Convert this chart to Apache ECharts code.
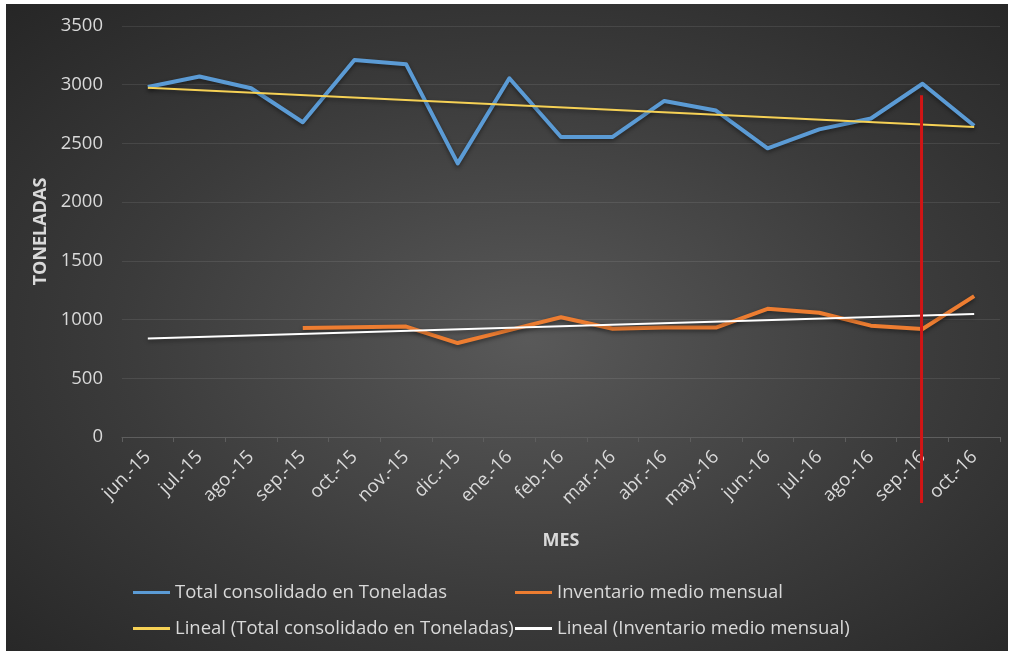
<!DOCTYPE html>
<html>
<head>
<meta charset="utf-8">
<script src="https://cdn.jsdelivr.net/npm/echarts@6/dist/echarts.min.js"></script>
<style>
  html, body { margin: 0; padding: 0; background: #ffffff; }
  #panel {
    position: absolute; left: 6px; top: 4px; width: 1002px; height: 647px;
    background: radial-gradient(ellipse farthest-corner at 52% 52%, #595959 0%, #3b3b3b 55%, #262626 100%);
  }
  #chart { position: absolute; left: 0; top: 0; width: 1009px; height: 652px; }
</style>
</head>
<body>
<div id="panel"></div>
<div id="chart"></div>
<script>
// Months on the category axis
const meses = ['jun.-15', 'jul.-15', 'ago.-15', 'sep.-15', 'oct.-15', 'nov.-15', 'dic.-15',
  'ene.-16', 'feb.-16', 'mar.-16', 'abr.-16', 'may.-16', 'jun.-16', 'jul.-16', 'ago.-16',
  'sep.-16', 'oct.-16'];

// Total consolidated tonnage per month
const totalToneladas = [2980, 3070, 2970, 2680, 3210, 3175, 2330, 3055, 2555, 2555, 2862,
  2780, 2458, 2620, 2712, 3008, 2650];

// Monthly average inventory (no data before sep.-15)
const inventarioMedio = [null, null, null, 928, 935, 940, 800, 910, 1020, 922, 932, 932,
  1092, 1058, 948, 920, 1200];

// Linear trend lines: value at the first and last month
const tendenciaTotal = [2975, 2640];
const tendenciaInventario = [838, 1048];

// Y axis ticks
const yTicks = [0, 500, 1000, 1500, 2000, 2500, 3000, 3500];

// Month marked with the red vertical line and the value where it starts
const mesMarcado = 'sep.-16';
const valorMarcado = 2910;

function trendSeries(ends) {
  const arr = meses.map(() => null);
  arr[0] = ends[0];
  arr[arr.length - 1] = ends[1];
  return arr;
}

const FONT = 'Open Sans';
const LABEL = '#d9d9d9';

const chart = echarts.init(document.getElementById('chart'), null, { renderer: 'canvas' });

const legendText = { color: LABEL, fontFamily: FONT, fontSize: 18.5 };
function legendAt(name, left, topPos) {
  return {
    data: [name], left: left, top: topPos, itemWidth: 37, itemHeight: 3, icon: 'rect',
    itemGap: 0, padding: 0, selectedMode: false, textStyle: legendText
  };
}

const shadow = { shadowColor: 'rgba(0,0,0,0.45)', shadowBlur: 4, shadowOffsetY: 2 };

chart.setOption({
  backgroundColor: 'transparent',
  animation: false,
  grid: { left: 122, right: 9, top: 26, bottom: 215, containLabel: false },
  legend: [
    legendAt('Total consolidado en Toneladas', 133, 583),
    legendAt('Inventario medio mensual', 515, 583),
    legendAt('Lineal (Total consolidado en Toneladas)', 133, 619),
    legendAt('Lineal (Inventario medio mensual)', 515, 619)
  ],
  xAxis: {
    type: 'category',
    data: meses,
    boundaryGap: true,
    name: 'MES',
    nameLocation: 'middle',
    nameGap: 95,
    nameTextStyle: { color: LABEL, fontFamily: FONT, fontSize: 18, fontWeight: 'bold' },
    axisLine: { show: true, lineStyle: { color: '#5e5e5e', width: 1 } },
    axisTick: { show: true, alignWithLabel: false, length: 5, lineStyle: { color: '#5e5e5e' } },
    axisLabel: { color: LABEL, fontFamily: FONT, fontSize: 18.5, rotate: 45, margin: 17, interval: 0 },
    splitLine: { show: false }
  },
  yAxis: {
    type: 'value',
    min: yTicks[0],
    max: yTicks[yTicks.length - 1],
    interval: yTicks[1] - yTicks[0],
    name: 'TONELADAS',
    nameLocation: 'middle',
    nameGap: 67,
    nameRotate: 90,
    nameTextStyle: { color: LABEL, fontFamily: FONT, fontSize: 18, fontWeight: 'bold' },
    axisLine: { show: false },
    axisTick: { show: false },
    axisLabel: { color: LABEL, fontFamily: FONT, fontSize: 18.5, margin: 19, formatter: v => String(v) },
    splitLine: { show: true, lineStyle: { color: 'rgba(255,255,255,0.09)', width: 1 } }
  },
  series: [
    {
      name: 'Total consolidado en Toneladas', type: 'line', data: totalToneladas,
      symbol: 'none', color: '#5b9bd5', z: 3,
      lineStyle: Object.assign({ width: 4, color: '#5b9bd5', join: 'round' }, shadow)
    },
    {
      name: 'Inventario medio mensual', type: 'line', data: inventarioMedio,
      symbol: 'none', color: '#ed7d31', z: 3,
      lineStyle: Object.assign({ width: 4, color: '#ed7d31', join: 'round' }, shadow)
    },
    {
      name: 'Lineal (Total consolidado en Toneladas)', type: 'line', data: trendSeries(tendenciaTotal),
      connectNulls: true, symbol: 'none', color: '#f6d155', z: 4,
      lineStyle: Object.assign({ width: 2, color: '#f6d155' }, shadow)
    },
    {
      name: 'Lineal (Inventario medio mensual)', type: 'line', data: trendSeries(tendenciaInventario),
      connectNulls: true, symbol: 'none', color: '#ffffff', z: 4,
      lineStyle: Object.assign({ width: 2, color: '#ffffff' }, shadow)
    }
  ]
});

// Red vertical marker at the chosen month, running past the axis
const markTop = chart.convertToPixel({ gridIndex: 0 }, [meses.indexOf(mesMarcado), valorMarcado]);
const markBase = chart.convertToPixel({ gridIndex: 0 }, [meses.indexOf(mesMarcado), 0]);
chart.setOption({
  graphic: [{
    type: 'line', z: 100,
    shape: { x1: markTop[0] - 1, y1: markTop[1], x2: markTop[0] - 1, y2: markBase[1] + 66 },
    style: { stroke: '#d11515', lineWidth: 3 }
  }]
});
</script>
</body>
</html>
